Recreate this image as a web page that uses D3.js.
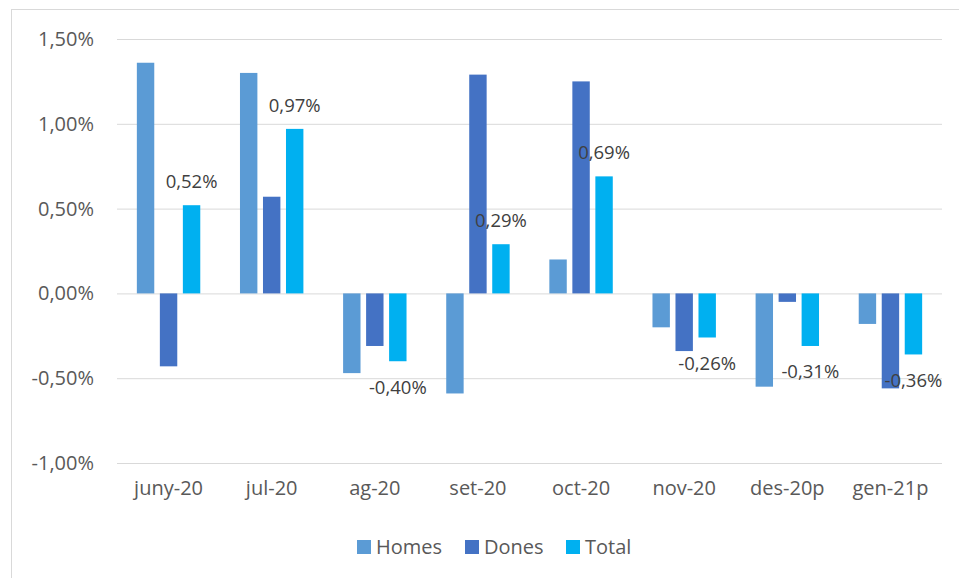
<!DOCTYPE html>
<html>
<head>
<meta charset="utf-8">
<script src="https://cdn.jsdelivr.net/npm/d3@7"></script>
<style>
  body { margin: 0; background: #fff; }
  text { font-family: "Open Sans", sans-serif; fill: #595959; }
</style>
</head>
<body>
<svg id="chart" width="959" height="578"></svg>
<script>
var months = ["juny-20", "jul-20", "ag-20", "set-20", "oct-20", "nov-20", "des-20p", "gen-21p"];
var series = ["Homes", "Dones", "Total"];
var homes = [1.36, 1.30, -0.47, -0.59, 0.20, -0.20, -0.55, -0.18];
var dones = [-0.43, 0.57, -0.31, 1.29, 1.25, -0.34, -0.05, -0.56];
var total = [0.52, 0.97, -0.40, 0.29, 0.69, -0.26, -0.31, -0.36];
var yTicks = [-1, -0.5, 0, 0.5, 1, 1.5];

var data = months.map(function(m, i) {
  return { month: m, Homes: homes[i], Dones: dones[i], Total: total[i] };
});

var svg = d3.select("#chart");

// chart frame
svg.append("rect")
    .attr("x", 11.5).attr("y", 9.5)
    .attr("width", 970).attr("height", 600)
    .attr("fill", "none")
    .attr("stroke", "#d9d9d9");

var plot = { left: 117, right: 942, top: 39, bottom: 463 };

var x0 = d3.scaleBand()
    .domain(months)
    .range([plot.left, plot.right])
    .paddingInner(0.385)
    .paddingOuter(0.1925);

var x1 = d3.scaleBand()
    .domain(series)
    .range([0, x0.bandwidth()])
    .paddingInner(0.243);

var y = d3.scaleLinear()
    .domain([-1, 1.5])
    .range([plot.bottom, plot.top]);

var z = d3.scaleOrdinal()
    .domain(series)
    .range(["#5b9bd5", "#4472c4", "#00b0f0"]);

// catalan style: comma decimal, plain hyphen for minus
var fmt = function(d) {
  return d3.format(".2f")(d).replace("\u2212", "-").replace(".", ",") + "%";
};

// gridlines
svg.append("g")
    .attr("transform", "translate(" + plot.left + ",0)")
    .call(d3.axisLeft(y).tickValues(yTicks).tickSize(-(plot.right - plot.left)).tickFormat(""))
    .call(function(g) { g.select(".domain").remove(); })
    .selectAll("line")
    .attr("stroke", "#d9d9d9");

// y labels
svg.append("g")
    .attr("transform", "translate(94,0)")
    .call(d3.axisLeft(y).tickValues(yTicks).tickSize(0).tickPadding(0).tickFormat(fmt))
    .call(function(g) { g.select(".domain").remove(); })
    .selectAll("text")
    .attr("font-size", 20)
    .attr("font-family", "Open Sans");

// bars
var groups = svg.append("g")
  .selectAll("g")
  .data(data)
  .enter().append("g")
    .attr("transform", function(d) { return "translate(" + x0(d.month) + ",0)"; });

groups.selectAll("rect")
  .data(function(d) { return series.map(function(key) { return { key: key, value: d[key] }; }); })
  .enter().append("rect")
    .attr("x", function(d) { return x1(d.key); })
    .attr("y", function(d) { return y(Math.max(0, d.value)); })
    .attr("width", x1.bandwidth())
    .attr("height", function(d) { return Math.abs(y(d.value) - y(0)); })
    .attr("fill", function(d) { return z(d.key); });

// total labels
groups.append("text")
    .attr("x", x1("Total") + x1.bandwidth() / 2)
    .attr("y", function(d) { return d.Total >= 0 ? y(d.Total) - 23.5 : y(d.Total) + 26; })
    .attr("dy", "0.35em")
    .attr("text-anchor", "middle")
    .attr("font-size", 18.5)
    .style("fill", "#404040")
    .text(function(d) { return fmt(d.Total); });

// x labels
svg.append("g")
    .attr("transform", "translate(0,481)")
    .call(d3.axisBottom(x0).tickSize(0).tickPadding(0))
    .call(function(g) { g.select(".domain").remove(); })
    .selectAll("text")
    .attr("font-size", 20)
    .attr("font-family", "Open Sans");

// legend
var legendX = [357, 465, 566];
var legend = svg.append("g")
  .selectAll("g")
  .data(series)
  .enter().append("g")
    .attr("transform", function(d, i) { return "translate(" + legendX[i] + ",540)"; });

legend.append("rect")
    .attr("width", 14)
    .attr("height", 14)
    .attr("fill", z);

legend.append("text")
    .attr("x", 19)
    .attr("y", 7)
    .attr("dy", "0.35em")
    .attr("font-size", 20)
    .text(function(d) { return d; });
</script>
</body>
</html>
